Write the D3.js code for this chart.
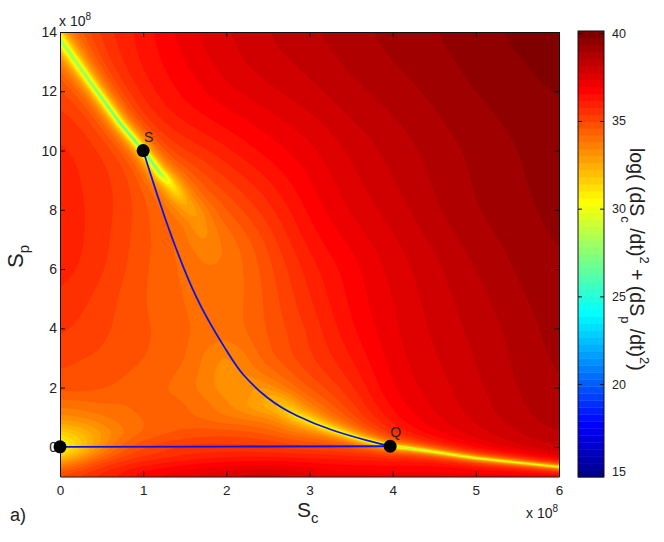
<!DOCTYPE html>
<html><head><meta charset="utf-8">
<script src="https://cdn.jsdelivr.net/npm/d3@7"></script>
<style>
html,body{margin:0;padding:0;background:#fff}
svg{display:block}
text{font-family:"Liberation Sans",Arial,sans-serif;fill:#222}
</style></head><body><svg id="c" width="664" height="542"></svg>
<script>
const xTicks=[0,1,2,3,4,5,6];
const yTicks=[0,2,4,6,8,10,12,14];
const colorTicks=[15,20,25,30,35,40];
const xKnots=[0,.25,.5,.75,1,1.5,2,2.5,3,3.5,4,4.5,5,5.5,6];
const yKnots=[14,13,12,11,10,9,8,7,6,5,4,3,2,1.5,1,.5,.25,0,-.25,-.5,-.75,-1];
const fieldRows=[
[34.7,35.3,35.8,36.15,36.4,37.3,37.74,38.2,38.5,38.85,39.1,39.35,39.6,39.85,40.1],
[35,35.3,35.7,36.1,36.4,37,37.6,38,38.3,38.65,38.95,39.2,39.48,39.7,39.97],
[35.5,35.5,35.6,35.9,36.2,36.8,37.3,37.7,38.05,38.45,38.75,39.05,39.36,39.55,39.8],
[35.8,35.7,35.6,35.7,36,36.4,36.8,37.2,37.65,38.15,38.5,38.88,39.2,39.45,39.7],
[36,35.9,35.7,35.6,35.7,35.7,36.2,36.8,37.25,37.85,38.3,38.7,39.05,39.33,39.65],
[36,35.9,35.7,35.5,35.3,35,35.5,36.2,37,37.65,38.15,38.6,39,39.28,39.58],
[36,35.9,35.7,35.4,35,34.5,34.9,35.7,36.7,37.45,37.95,38.5,38.94,39.22,39.5],
[36,35.9,35.6,35.2,34.8,34.3,34.1,35.2,36.4,37.1,37.7,38.25,38.75,39.1,39.43],
[36,35.8,35.5,35.1,34.7,34.2,33.9,34.9,36,36.8,37.5,38.05,38.55,39,39.36],
[35.8,35.5,35.2,34.9,34.6,34.2,33.9,34.8,35.8,36.7,37.4,37.95,38.42,38.85,39.27],
[35.5,35.3,35.1,34.9,34.7,34.3,34,34.7,35.5,36.55,37.3,37.85,38.3,38.72,39.18],
[35.1,35,34.9,34.7,34.6,34.2,33.4,34.5,35.4,36.2,37.2,37.75,38.2,38.65,39.1],
[34.7,34.7,34.6,34.5,34.4,34,33.3,33.7,34.9,35.8,37.05,37.6,38.1,38.6,39.02],
[34,34.1,34.2,34.2,34.3,34.2,33.5,32.7,34.3,35.5,36.9,37.55,38.05,38.55,38.97],
[33.2,33.4,33.7,34,34.2,34.3,33.9,33.7,33.9,35.3,36.7,37.5,38,38.5,38.92],
[31.6,32.2,33,33.7,34.2,34.7,34.8,34.6,34.2,35,36.4,37.4,37.9,38.4,38.8],
[30.8,31.8,33,33.9,34.5,35,35.2,35.1,34.8,35.1,36.3,37.3,37.85,38.35,38.75],
[30.2,31.7,33.2,34.3,34.9,35.5,35.6,35.5,35.3,35.4,36.3,37.2,37.8,38.3,38.7],
[31.2,32.5,33.8,34.7,35.2,35.7,35.9,36,35.9,35.9,36.4,37.1,37.7,38.2,38.6],
[32.8,33.8,34.8,35.4,35.8,36.3,36.6,36.7,36.7,36.7,36.8,37.1,37.5,38,38.5],
[34.2,34.8,35.5,36,36.4,36.9,37.2,37.4,37.5,37.4,37.4,37.5,37.7,37.9,38.2],
[35.2,35.6,36,36.4,36.9,37.4,37.9,38.2,38.2,38.1,38,37.9,37.9,38,38.2]];
// trough centre lines: [Sc, Sp, value on the line]
const upperTrough=[[-.05,13.95,28.5],[.36,12.33,27.5],[.72,10.93,26.2],[1,10,25.8],[1.2,9.25,27.5],[1.32,8.9,30.5],[1.5,8.25,32.5],[1.64,7.76,33],[1.8,6.6,33.6],[1.9,5.6,34]];
const lowerTrough=[[2.3,1.9,33],[2.6,1.45,32.2],[2.85,1.05,31],[3.2,.65,30.5],[3.6,.28,30],[3.97,.02,27],[4.2,-.05,25.5],[4.5,-.17,25.5],[5,-.38,25.5],[5.5,-.53,25.5],[6.05,-.69,25.5]];
const pathSQ=[[1,10],[1.26,7.75],[1.64,5.05],[2,3.26],[2.2,2.45],[2.5,1.65],[2.85,1.05],[3.28,.56],[3.69,.22],[3.97,.02]];
const pathQO=[[3.97,.02],[2,.01],[0,0]];
const points=[{n:"",x:0,y:0},{n:"S",x:1,y:10},{n:"Q",x:3.97,y:.02}];
const jetStops=[14.5,17.7,24.05,30.4,36.76,39.93];
const jetColors=["#000080","#0000ff","#00ffff","#ffff00","#ff0000","#800000"];

const L=60,R=559,T=32,B=476.5;
const x=d3.scaleLinear().domain([0,6]).range([L,R]);
const y=d3.scaleLinear().domain([-1,14]).range([B,T]);
const jet=d3.scaleLinear().domain(jetStops).range(jetColors).clamp(true);
const svg=d3.select("#c");
const W=Math.ceil(R-L),H=Math.ceil(B-T);

function hermite(ks,vs,v){
  const n=ks.length,sgn=ks[1]>ks[0]?1:-1;
  let i=0;
  while(i<n-2&&sgn*(v-ks[i+1])>0)i++;
  const m=a=>{const lo=Math.max(0,a-1),hi=Math.min(n-1,a+1);return (vs[hi]-vs[lo])/(ks[hi]-ks[lo]);};
  const h=ks[i+1]-ks[i],t=Math.max(0,Math.min(1,(v-ks[i])/h)),t2=t*t,t3=t2*t;
  return (2*t3-3*t2+1)*vs[i]+(t3-2*t2+t)*h*m(i)+(-2*t3+3*t2)*vs[i+1]+(t3-t2)*h*m(i+1);
}
const vals=new Float64Array(W*H);
for(let i=0;i<W;i++){
  const sx=x.invert(L+i);
  const col=fieldRows.map(r=>hermite(xKnots,r,sx));
  for(let j=0;j<H;j++) vals[j*W+i]=hermite(yKnots,col,y.invert(T+j));
}
// soften the reading noise: strongly away from the small features near the origin
const soft=Float64Array.from(vals);
d3.blur2({data:soft,width:W,height:H},14);
d3.blur2({data:vals,width:W,height:H},3);
for(let j=0;j<H;j++)for(let i=0;i<W;i++){
  const mix=Math.max(0,Math.min(1,Math.max((x.invert(L+i)-2.5)/.7,(y.invert(T+j)-3)/1.5)));
  vals[j*W+i]=vals[j*W+i]*(1-mix)+soft[j*W+i]*mix;
}
function carve(line,w,k){
  const pts=line.map(p=>[x(p[0])-L,y(p[1])-T,p[2]]);
  for(let j=0;j<H;j++)for(let i=0;i<W;i++){
    let best=1e12,cv=0;
    for(let s=0;s<pts.length-1;s++){
      const p=pts[s],q=pts[s+1],dx=q[0]-p[0],dy=q[1]-p[1];
      let t=((i-p[0])*dx+(j-p[1])*dy)/(dx*dx+dy*dy);t=Math.max(0,Math.min(1,t));
      const ex=p[0]+t*dx-i,ey=p[1]+t*dy-j,d=ex*ex+ey*ey;
      if(d<best){best=d;cv=p[2]+t*(q[2]-p[2]);}
    }
    const bg=vals[j*W+i];
    if(cv<bg){
      const e=w*Math.exp((cv-bg)/(2*k));
      vals[j*W+i]=bg+k*Math.log((best+e*e)/(best+w*w));
    }
  }
}
carve(upperTrough,20,1.4);
carve(lowerTrough,14,1.3);

const cMin=14.7,cMax=40.13,step=(cMax-cMin)/64;
const levelEdges=d3.range(64).map(i=>cMin+i*step);
const thresholds=levelEdges.filter(v=>v>22);
const contours=d3.contours().size([W,H]).thresholds(thresholds)(vals);
const defs=svg.append("defs");
defs.append("clipPath").attr("id","pl").append("rect").attr("x",L).attr("y",T).attr("width",R-L).attr("height",B-T);
const plot=svg.append("g").attr("clip-path","url(#pl)");
plot.append("rect").attr("x",L).attr("y",T).attr("width",R-L).attr("height",B-T).attr("fill",jet(22));
const gp=d3.geoPath();
plot.append("g").attr("transform",`translate(${L-.5},${T-.5})`)
 .selectAll("path").data(contours).join("path")
 .attr("d",gp).attr("fill",d=>jet(d.value+step/2)).attr("stroke",d=>jet(d.value+step/2)).attr("stroke-width",.3);

const ln=d3.line().x(d=>x(d[0])).y(d=>y(d[1])).curve(d3.curveNatural);
[pathSQ,pathQO].forEach(p=>plot.append("path").attr("d",ln(p)).attr("fill","none").attr("stroke","#0a14e6").attr("stroke-width",1.8));

const style=fs=>g=>{g.selectAll(".domain,line").attr("stroke","#111").attr("stroke-width",1);g.selectAll("text").attr("font-size",fs).attr("font-family",'"Liberation Sans"').attr("fill","#222");};
svg.append("g").attr("transform",`translate(0,${B})`).call(d3.axisBottom(x).tickValues(xTicks).tickFormat(d3.format("d")).tickSizeInner(-5).tickSizeOuter(0).tickPadding(9)).call(style(13.5));
svg.append("g").attr("transform",`translate(0,${T})`).call(d3.axisTop(x).tickValues(xTicks).tickFormat("").tickSizeInner(-5).tickSizeOuter(0)).call(style(13.5));
svg.append("g").attr("transform",`translate(${L},0)`).call(d3.axisLeft(y).tickValues(yTicks).tickFormat(d3.format("d")).tickSizeInner(-5).tickSizeOuter(0).tickPadding(3)).call(style(14));
svg.append("g").attr("transform",`translate(${R},0)`).call(d3.axisRight(y).tickValues(yTicks).tickFormat("").tickSizeInner(-5).tickSizeOuter(0)).call(style(14));

svg.append("g").selectAll("circle").data(points).join("circle").attr("cx",d=>x(d.x)).attr("cy",d=>y(d.y)).attr("r",6.5).attr("fill","#000");
svg.append("g").selectAll("text").data(points.filter(d=>d.n)).join("text").attr("x",d=>x(d.x)+5.5).attr("y",d=>y(d.y)-9).attr("text-anchor","middle").attr("font-size",14).text(d=>d.n);

function mult(px,py){const t=svg.append("text").attr("x",px).attr("y",py).attr("font-size",14);t.append("tspan").text("x 10");t.append("tspan").attr("dy",-6).attr("font-size",10).text("8");}
mult(59,26);mult(526,518);

const sc=svg.append("text").attr("x",297).attr("y",517).attr("font-size",21);sc.append("tspan").text("S");sc.append("tspan").attr("dy",6).attr("font-size",15).text("c");
const sp=svg.append("text").attr("transform","translate(23,268) rotate(-90)").attr("font-size",22);sp.append("tspan").text("S");sp.append("tspan").attr("dy",6).attr("font-size",15).text("p");
svg.append("text").attr("x",10).attr("y",521).attr("font-size",18).text("a)");

const cbL=578,cbR=604,cbT=31,cbB=477;
const cy=d3.scaleLinear().domain([cMin,cMax]).range([cbB,cbT]);
const lh=(cbB-cbT)/64;
svg.append("g").selectAll("rect").data(levelEdges).join("rect").attr("x",cbL).attr("width",cbR-cbL).attr("y",d=>cy(d)-lh).attr("height",lh+.4).attr("fill",d=>jet(d+step/2));
svg.append("rect").attr("x",cbL).attr("y",cbT).attr("width",cbR-cbL).attr("height",cbB-cbT).attr("fill","none").attr("stroke","#111");
svg.append("g").attr("transform",`translate(${cbR},0)`).call(d3.axisRight(cy).tickValues(colorTicks).tickFormat(d3.format("d")).tickSizeInner(-4).tickSizeOuter(0).tickPadding(8)).call(style(12.5)).select(".domain").remove();
svg.append("g").attr("transform",`translate(${cbL},0)`).call(d3.axisLeft(cy).tickValues(colorTicks).tickFormat("").tickSizeInner(-4).tickSizeOuter(0)).call(style(12.5)).select(".domain").remove();
const cl=svg.append("text").attr("transform","translate(630,148) rotate(90)").attr("font-size",19.5);
[["log( (dS",0,19.5],["c",9,13],[" /dt)",-9,19.5],["2",-10,13],[" + (dS",10,19.5],["p",9,13],[" /dt)",-9,19.5],["2",-10,13],[")",10,19.5]].forEach(([t,dy,fs])=>{cl.append("tspan").attr("dy",dy).attr("font-size",fs).style("white-space","pre").text(t);});
</script></body></html>
